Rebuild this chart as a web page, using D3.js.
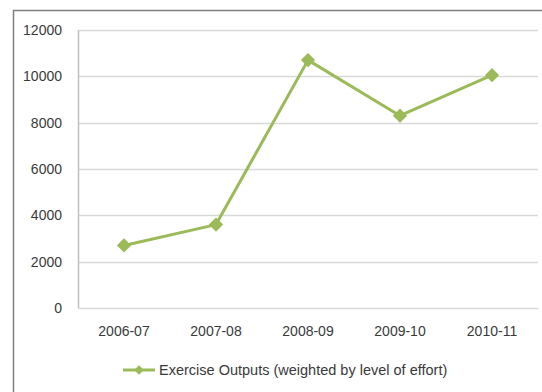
<!DOCTYPE html>
<html>
<head>
<meta charset="utf-8">
<script src="https://cdn.jsdelivr.net/npm/d3@7"></script>
<style>
  body { margin: 0; background: #fff; }
  svg text { font-family: "Liberation Sans", Arial, sans-serif; fill: #3a3a3a; }
</style>
</head>
<body>
<div id="chart"></div>
<script>
// line chart with diamond markers, excel style

var years = ["2006-07", "2007-08", "2008-09", "2009-10", "2010-11"];
var outputs = [2700, 3600, 10700, 8300, 10050];
var yTicks = [0, 2000, 4000, 6000, 8000, 10000, 12000];
var seriesName = "Exercise Outputs (weighted by level of effort)";

var width = 542,
    height = 392,
    margin = {top: 30, right: 4, bottom: 84, left: 78};

var svg = d3.select("#chart").append("svg")
    .attr("width", width)
    .attr("height", height);

// outer chart frame (runs off the right/bottom of the crop)
svg.append("rect")
    .attr("x", 13.5).attr("y", 10.5)
    .attr("width", 700).attr("height", 600)
    .attr("fill", "none")
    .attr("stroke", "#7f7f7f")
    .attr("stroke-width", 1.5);

var xScale = d3.scaleBand()
    .domain(years)
    .range([margin.left, width - margin.right]);

var yScale = d3.scaleLinear()
    .domain([0, 12000])
    .range([height - margin.bottom, margin.top]);

// gridlines
svg.append("g")
    .selectAll("line")
    .data(yTicks.slice(1))
  .enter().append("line")
    .attr("x1", margin.left).attr("x2", width - margin.right)
    .attr("y1", function(d){ return Math.round(yScale(d)) + 0.5 })
    .attr("y2", function(d){ return Math.round(yScale(d)) + 0.5 })
    .attr("stroke", "#d9d9d9")
    .attr("stroke-width", 1.5);

// y axis
var yAxis = d3.axisLeft(yScale)
    .tickValues(yTicks)
    .tickFormat(d3.format("d"))
    .tickSize(0)
    .tickPadding(16);

var gy = svg.append("g")
    .attr("transform", "translate(" + margin.left + ",0)")
    .call(yAxis);
gy.select(".domain").attr("stroke", "#bfbfbf").attr("stroke-width", 1.5);
gy.selectAll("text").attr("font-size", 14).attr("font-family", null);

// x axis
var xAxis = d3.axisBottom(xScale)
    .tickSize(0)
    .tickPadding(18);

var gx = svg.append("g")
    .attr("transform", "translate(0," + yScale(0) + ")")
    .call(xAxis);
gx.select(".domain").attr("stroke", "#d9d9d9").attr("stroke-width", 1.5);
gx.selectAll("text").attr("font-size", 14).attr("font-family", null);

// series line
var line = d3.line()
    .x(function(d, i){ return xScale(years[i]) + xScale.bandwidth() / 2 })
    .y(function(d){ return yScale(d) });

svg.append("path")
    .datum(outputs)
    .attr("d", line)
    .attr("fill", "none")
    .attr("stroke", "#9bbb59")
    .attr("stroke-width", 3)
    .attr("stroke-linejoin", "round");

var diamond = d3.symbol().type(d3.symbolDiamond2).size(130);

svg.selectAll(".marker")
    .data(outputs)
  .enter().append("path")
    .attr("class", "marker")
    .attr("d", diamond)
    .attr("fill", "#9bbb59")
    .attr("transform", function(d, i){
      return "translate(" + (xScale(years[i]) + xScale.bandwidth() / 2) + "," + yScale(d) + ")"
    });

// legend
var lg = svg.append("g").attr("transform", "translate(123,370)");
lg.append("line")
    .attr("x1", 0).attr("x2", 32)
    .attr("stroke", "#9bbb59").attr("stroke-width", 3);
lg.append("path")
    .attr("d", d3.symbol().type(d3.symbolDiamond2).size(60))
    .attr("fill", "#9bbb59")
    .attr("transform", "translate(16,0)");
lg.append("text")
    .attr("x", 36).attr("y", 5)
    .attr("font-size", 14.5)
    .text(seriesName);
</script>
</body>
</html>
